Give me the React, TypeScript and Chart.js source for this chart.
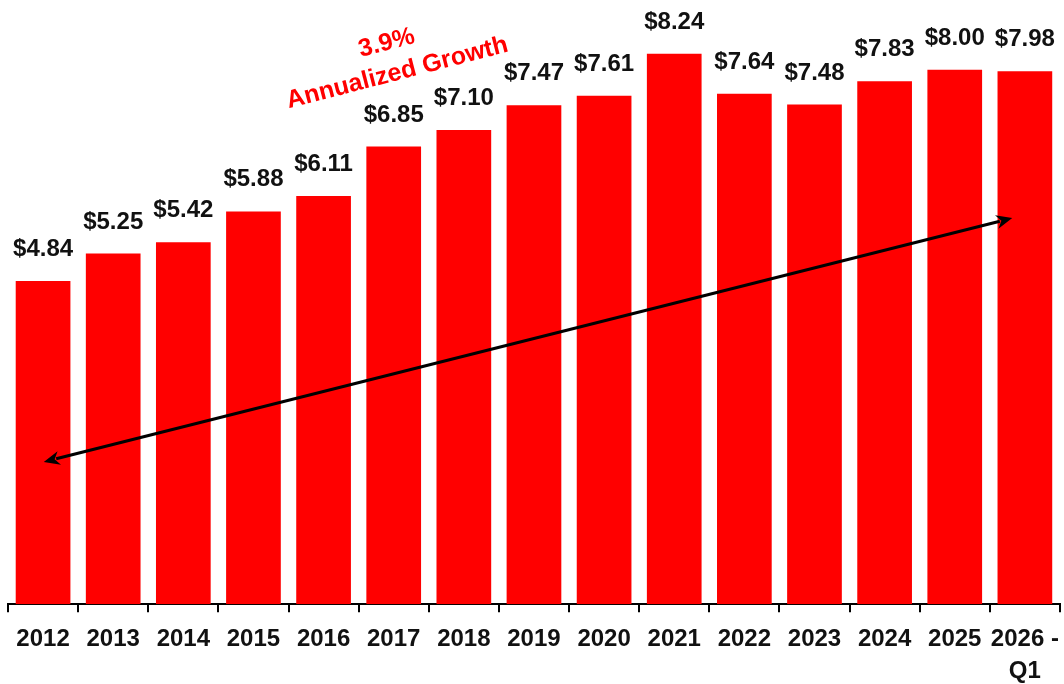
import React, { useEffect, useRef } from "react";
import { Chart, registerables } from "chart.js";

Chart.register(...registerables);

const categories: (string | string[])[] = [
  "2012", "2013", "2014", "2015", "2016", "2017", "2018", "2019",
  "2020", "2021", "2022", "2023", "2024", "2025", ["2026 -", "Q1"],
];
const values: number[] = [4.84, 5.25, 5.42, 5.88, 6.11, 6.85, 7.10, 7.47, 7.61, 8.24, 7.64, 7.48, 7.83, 8.00, 7.98];
const valueLabels: string[] = values.map((v) => "$" + v.toFixed(2));

// trend arrow endpoints in data units (category index, value)
const arrowStart = { x: 0.01, y: 2.13 };
const arrowEnd = { x: 13.82, y: 5.78 };
const growthLines: string[] = ["3.9%", "Annualized Growth"];
const growthAnchors = [
  { x: 4.9, y: 8.4 },
  { x: 5.05, y: 7.95 },
];

const FONT = "'Liberation Sans', Arial, sans-serif";

const overlayPlugin = {
  id: "overlay",
  afterDatasetsDraw(chart: any) {
    const ctx = chart.ctx;
    const meta = chart.getDatasetMeta(0);
    ctx.save();
    ctx.fillStyle = "#111111";
    ctx.font = `bold 24px ${FONT}`;
    ctx.textAlign = "center";
    ctx.textBaseline = "alphabetic";
    meta.data.forEach((bar: any, i: number) => {
      ctx.fillText(valueLabels[i], bar.x, bar.y - 25);
    });

    const xs = chart.scales.x;
    const ys = chart.scales.y;
    const x1 = xs.getPixelForValue(arrowStart.x);
    const y1 = ys.getPixelForValue(arrowStart.y);
    const x2 = xs.getPixelForValue(arrowEnd.x);
    const y2 = ys.getPixelForValue(arrowEnd.y);
    const ang = Math.atan2(y2 - y1, x2 - x1);
    const headLen = 16;
    const headW = 7;
    ctx.strokeStyle = "#000000";
    ctx.fillStyle = "#000000";
    ctx.lineWidth = 3;
    ctx.beginPath();
    ctx.moveTo(x1 + Math.cos(ang) * headLen * 0.8, y1 + Math.sin(ang) * headLen * 0.8);
    ctx.lineTo(x2 - Math.cos(ang) * headLen * 0.8, y2 - Math.sin(ang) * headLen * 0.8);
    ctx.stroke();
    const head = (tx: number, ty: number, a: number) => {
      ctx.beginPath();
      ctx.moveTo(tx, ty);
      ctx.lineTo(tx - Math.cos(a) * headLen - Math.sin(a) * headW, ty - Math.sin(a) * headLen + Math.cos(a) * headW);
      ctx.lineTo(tx - Math.cos(a) * headLen * 0.7, ty - Math.sin(a) * headLen * 0.7);
      ctx.lineTo(tx - Math.cos(a) * headLen + Math.sin(a) * headW, ty - Math.sin(a) * headLen - Math.cos(a) * headW);
      ctx.closePath();
      ctx.fill();
    };
    head(x2, y2, ang);
    head(x1, y1, ang + Math.PI);

    ctx.fillStyle = "#FF0000";
    ctx.font = `bold 25px ${FONT}`;
    ctx.textBaseline = "middle";
    growthLines.forEach((t, i) => {
      const px = xs.getPixelForValue(growthAnchors[i].x);
      const py = ys.getPixelForValue(growthAnchors[i].y);
      ctx.save();
      ctx.translate(px, py);
      ctx.rotate((-14.5 * Math.PI) / 180);
      ctx.fillText(t, 0, 0);
      ctx.restore();
    });
    ctx.restore();
  },
};

export default function App() {
  const ref = useRef<HTMLCanvasElement | null>(null);
  useEffect(() => {
    if (!ref.current) return;
    const chart = new Chart(ref.current, {
      type: "bar",
      data: {
        labels: categories as any,
        datasets: [
          {
            data: values,
            backgroundColor: "#FF0000",
            borderWidth: 0,
            barPercentage: 0.78,
            categoryPercentage: 1,
          },
        ],
      },
      options: {
        responsive: false,
        animation: false,
        devicePixelRatio: 1,
        layout: { padding: { top: 3, left: 8, right: 3, bottom: 0 } },
        plugins: { legend: { display: false }, tooltip: { enabled: false } },
        scales: {
          x: {
            offset: true,
            border: { display: true, color: "#000000", width: 2 },
            grid: {
              offset: true,
              drawOnChartArea: false,
              drawTicks: true,
              tickLength: 8,
              color: "#000000",
              lineWidth: 2,
            },
            ticks: {
              color: "#111111",
              padding: 11,
              maxRotation: 0,
              autoSkip: false,
              font: { family: FONT, size: 24, weight: "bold", lineHeight: 1.35 },
            },
          },
          y: { display: false, min: 0, max: 9 },
        },
      },
      plugins: [overlayPlugin],
    });
    return () => chart.destroy();
  }, []);
  return (
    <div style={{ position: "fixed", top: 0, left: 0, width: 1064, height: 684, overflow: "hidden", background: "#fff" }}>
      <canvas ref={ref} width={1070} height={699} style={{ width: 1070, height: 699, display: "block" }} />
    </div>
  );
}
